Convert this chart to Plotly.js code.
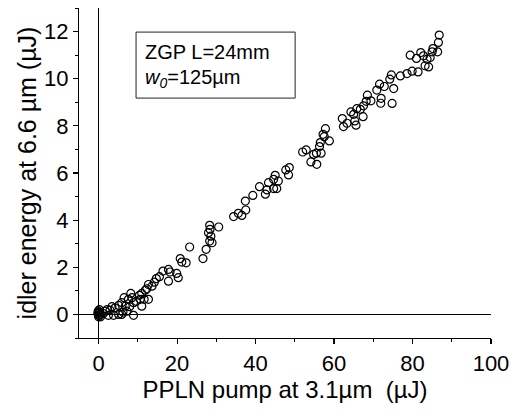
<!DOCTYPE html>
<html>
<head>
<meta charset="utf-8">
<script src="https://cdn.plot.ly/plotly-3.0.1.min.js"></script>
<style>html,body{margin:0;padding:0;background:#fff;}#chart{width:514px;height:413px;}</style>
</head>
<body>
<div id="chart"></div>
<script>
// PPLN pump energy (µJ)
const pumpEnergy = [
  -0.2, 0.0, 0.2, 0.4, -0.1, 0.1, 0.3, 0.0, 0.5, 0.2,
  1.2, 1.7, 2.2, 2.9, 3.4, 4.2, 5.1, 5.9, 6.5, 6.8,
  2.5, 3.8, 5.1, 5.9, 6.2, 7.2, 7.6, 7.9, 8.2, 8.5,
  8.9, 8.9, 9.6, 10.4, 10.6, 11.0, 11.0, 11.6, 11.9, 12.3,
  12.7, 12.7, 13.6, 14.2, 14.7, 15.5, 16.4, 17.8, 17.8, 18.2,
  19.9, 20.3, 20.8, 21.2, 22.3, 23.2, 26.6, 27.4, 28.0, 28.3,
  28.3, 28.4, 28.6, 28.9, 30.6, 34.4, 35.6, 36.5, 37.5, 37.4,
  39.3, 41.0, 42.5, 42.9, 43.3, 44.6, 44.6, 45.0, 45.4, 45.8,
  47.7, 48.4, 48.6, 52.0, 52.9, 54.1, 54.8, 55.5, 55.6, 56.3,
  56.5, 56.7, 57.2, 57.5, 57.8, 58.8, 62.1, 62.4, 63.3, 64.3,
  65.0, 65.3, 65.6, 65.8, 66.7, 67.4, 67.5, 68.2, 68.5, 69.4,
  70.9, 71.6, 71.9, 72.0, 72.8, 74.2, 74.6, 74.8, 75.2, 76.9,
  78.6, 79.4, 79.9, 81.0, 81.4, 82.1, 82.8, 83.2, 83.7, 84.1,
  84.5, 85.0, 85.2, 86.4, 86.6, 86.8
];
// Idler energy at 6.6 µm (µJ)
const idlerEnergy = [
  0.05, -0.1, 0.1, 0.0, 0.15, -0.05, 0.05, 0.1, -0.1, 0.2,
  0.04, 0.14, 0.21, 0.18, 0.33, 0.28, 0.38, 0.50, 0.71, 0.35,
  -0.04, -0.04, 0.0, 0.0, 0.10, 0.14, 0.64, 0.33, 0.89, 0.71,
  0.50, -0.04, 0.56, 0.81, 0.64, 0.89, 0.35, 0.64, 1.03, 1.09,
  1.27, 0.64, 1.20, 1.37, 1.52, 1.60, 1.84, 1.91, 1.41, 1.80,
  1.74, 1.56, 2.37, 2.22, 2.19, 2.86, 2.37, 2.76, 3.47, 3.78,
  3.11, 3.61, 3.32, 3.04, 3.71, 4.15, 4.29, 4.20, 4.43, 4.81,
  5.05, 5.42, 5.10, 5.28, 5.59, 5.73, 5.34, 5.90, 5.34, 5.66,
  6.13, 5.92, 6.23, 6.89, 6.98, 6.47, 6.79, 6.84, 6.37, 7.12,
  7.29, 6.84, 7.64, 7.54, 7.88, 7.36, 8.31, 7.97, 8.11, 8.59,
  8.49, 8.21, 8.03, 8.73, 8.70, 8.39, 8.85, 9.04, 9.30, 9.06,
  9.52, 9.77, 8.96, 9.17, 9.67, 9.98, 10.16, 8.95, 9.58, 10.12,
  10.22, 11.00, 10.32, 10.86, 10.29, 11.11, 10.97, 10.55, 10.83, 10.50,
  10.90, 11.14, 11.28, 11.14, 11.54, 11.85
];
const xTitle = "PPLN pump at 3.1µm&nbsp;&nbsp;(µJ)";
const yTitle = "idler energy at 6.6 µm (µJ)";
const boxLine1 = "ZGP L=24mm";
const boxLine2 = "<i>w<sub>0</sub></i>=125µm";

const font = "Liberation Sans, Arial, sans-serif";

const trace = {
  x: pumpEnergy,
  y: idlerEnergy,
  type: "scatter",
  mode: "markers",
  marker: {symbol: "circle-open", size: 8, color: "#000", line: {width: 1.2, color: "#000"}},
  showlegend: false,
  hoverinfo: "skip"
};

const axisCommon = {
  showline: true, linecolor: "#000", linewidth: 1.2,
  ticks: "outside", ticklen: 5, tickwidth: 1.2, tickcolor: "#000",
  showgrid: false, zeroline: true, zerolinecolor: "#000", zerolinewidth: 1.5,
  tickfont: {family: font, size: 22, color: "#000"},
  mirror: false
};

const layout = {
  width: 514, height: 413,
  margin: {l: 79, r: 23, t: 8, b: 75},
  paper_bgcolor: "#fff", plot_bgcolor: "#fff",
  font: {family: font, color: "#000"},
  xaxis: Object.assign({}, axisCommon, {
    range: [-5, 100], tickvals: [0, 20, 40, 60, 80, 100],
    minor: {dtick: 10, tick0: 0, ticks: "outside", ticklen: 3, tickcolor: "#000", tickwidth: 1},
    title: {text: xTitle, font: {family: font, size: 24, color: "#000"}, standoff: 4}
  }),
  yaxis: Object.assign({}, axisCommon, {
    range: [-1, 13], tickvals: [0, 2, 4, 6, 8, 10, 12],
    minor: {dtick: 1, tick0: 0, ticks: "outside", ticklen: 3, tickcolor: "#000", tickwidth: 1},
    title: {text: yTitle, font: {family: font, size: 25, color: "#000"}, standoff: 0}
  }),
  shapes: [{
    type: "rect", xref: "paper", yref: "paper",
    x0: 0.1385, x1: 0.5246, y0: 0.727, y1: 0.927,
    line: {color: "#222", width: 1}, fillcolor: "rgba(0,0,0,0)"
  }],
  annotations: [
    {xref: "paper", yref: "paper", x: 0.155, y: 0.866, xanchor: "left", yanchor: "middle",
     text: boxLine1, showarrow: false, font: {family: font, size: 20, color: "#000"}},
    {xref: "paper", yref: "paper", x: 0.155, y: 0.785, xanchor: "left", yanchor: "middle",
     text: boxLine2, showarrow: false, font: {family: font, size: 20, color: "#000"}}
  ]
};

Plotly.newPlot("chart", [trace], layout, {displayModeBar: false, staticPlot: true});
</script>
</body>
</html>
